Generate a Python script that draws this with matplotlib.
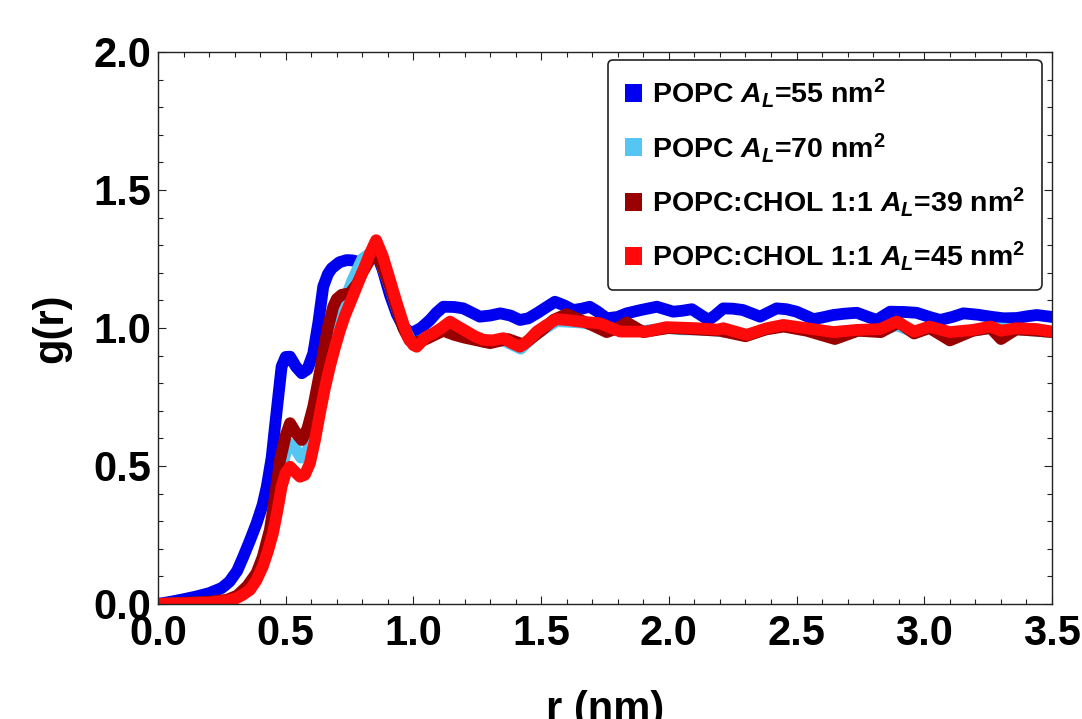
import matplotlib
matplotlib.use("Agg")
import matplotlib.pyplot as plt
from matplotlib.patches import Patch
from matplotlib.ticker import MultipleLocator

# ── fonts: bold helvetica-like everywhere, bold italic for A_L ───────────────
plt.rcParams["font.family"] = ["Liberation Sans", "DejaVu Sans"]
plt.rcParams["font.weight"] = "bold"
plt.rcParams["mathtext.fontset"] = "custom"
plt.rcParams["mathtext.rm"] = "Liberation Sans:bold"
plt.rcParams["mathtext.it"] = "Liberation Sans:bold:italic"
plt.rcParams["mathtext.bf"] = "Liberation Sans:bold"

# ── g(r) curves, read per system ──────────────────────────────────────────────
r_popc55 = [0.0, 0.05, 0.10, 0.15, 0.20, 0.25, 0.28, 0.31, 0.334, 0.36, 0.386,
            0.41, 0.426, 0.445, 0.458, 0.472, 0.484, 0.50, 0.517, 0.54, 0.563,
            0.585, 0.608, 0.628, 0.647, 0.665, 0.68, 0.71, 0.739, 0.76, 0.784,
            0.81, 0.83, 0.85, 0.88, 0.908, 0.935, 0.96, 0.98, 1.0, 1.03, 1.065,
            1.09, 1.117, 1.16, 1.195, 1.23, 1.26, 1.30, 1.34, 1.38, 1.417, 1.45,
            1.483, 1.52, 1.554, 1.59, 1.626, 1.66, 1.69, 1.72, 1.757, 1.80,
            1.835, 1.89, 1.953, 2.017, 2.05, 2.09, 2.12, 2.155, 2.18, 2.213,
            2.25, 2.29, 2.357, 2.422, 2.46, 2.5, 2.566, 2.60, 2.644, 2.69, 2.736,
            2.78, 2.814, 2.866, 2.92, 2.97, 3.02, 3.062, 3.11, 3.153, 3.21,
            3.258, 3.31, 3.362, 3.40, 3.44, 3.5]
g_popc55 = [0.0, 0.008, 0.017, 0.027, 0.039, 0.058, 0.081, 0.12, 0.171, 0.23,
            0.292, 0.36, 0.425, 0.53, 0.642, 0.76, 0.86, 0.895, 0.896, 0.86,
            0.836, 0.85, 0.908, 1.02, 1.15, 1.195, 1.216, 1.238, 1.246, 1.245,
            1.24, 1.245, 1.265, 1.285, 1.21, 1.12, 1.05, 1.005, 0.988, 0.985,
            1.0, 1.029, 1.055, 1.077, 1.076, 1.071, 1.055, 1.041, 1.045, 1.053,
            1.045, 1.029, 1.035, 1.053, 1.075, 1.095, 1.082, 1.065, 1.07, 1.077,
            1.06, 1.035, 1.04, 1.053, 1.065, 1.077, 1.059, 1.062, 1.068, 1.05,
            1.029, 1.045, 1.071, 1.07, 1.065, 1.041, 1.071, 1.068, 1.059, 1.032,
            1.038, 1.047, 1.052, 1.055, 1.04, 1.029, 1.059, 1.058, 1.055, 1.04,
            1.029, 1.04, 1.053, 1.048, 1.041, 1.035, 1.036, 1.042, 1.047, 1.04]

r_popc70 = [0.0, 0.10, 0.20, 0.27, 0.31, 0.36, 0.41, 0.45, 0.48, 0.50, 0.517,
            0.54, 0.56, 0.58, 0.60, 0.62, 0.64, 0.68, 0.72, 0.76, 0.80, 0.83,
            0.855, 0.88, 0.908, 0.935, 0.96, 0.985, 1.0, 1.03, 1.078, 1.143,
            1.209, 1.274, 1.352, 1.42, 1.483, 1.561, 1.652, 1.73, 1.81, 1.913,
            1.99, 2.05, 2.11, 2.19, 2.305, 2.383, 2.448, 2.54, 2.644, 2.736,
            2.827, 2.892, 2.96, 3.02, 3.1, 3.19, 3.26, 3.36, 3.44, 3.5]
g_popc70 = [0.0, 0.003, 0.006, 0.014, 0.025, 0.06, 0.15, 0.28, 0.47, 0.55, 0.58,
            0.56, 0.53, 0.54, 0.60, 0.68, 0.78, 0.94, 1.07, 1.17, 1.25, 1.27,
            1.29, 1.22, 1.15, 1.07, 1.01, 0.96, 0.945, 0.955, 0.98, 1.015, 0.98,
            0.95, 0.955, 0.925, 0.98, 1.025, 1.02, 1.01, 0.99, 0.99, 1.0, 0.995,
            0.995, 0.99, 0.975, 0.995, 1.008, 0.995, 0.985, 0.99, 0.99, 1.01,
            0.985, 1.0, 0.982, 0.99, 1.0, 0.995, 0.99, 0.985]

r_chol39 = [0.0, 0.10, 0.20, 0.27, 0.31, 0.35, 0.386, 0.41, 0.438, 0.46, 0.478,
            0.50, 0.517, 0.54, 0.563, 0.585, 0.608, 0.628, 0.647, 0.665, 0.686,
            0.70, 0.719, 0.752, 0.78, 0.80, 0.825, 0.85, 0.88, 0.908, 0.935,
            0.96, 0.985, 1.0, 1.05, 1.117, 1.16, 1.2, 1.25, 1.3, 1.37, 1.43,
            1.5, 1.55, 1.6, 1.65, 1.7, 1.757, 1.8, 1.835, 1.9, 2.0, 2.1, 2.2,
            2.3, 2.38, 2.45, 2.54, 2.65, 2.74, 2.83, 2.9, 2.96, 3.02, 3.1, 3.19,
            3.26, 3.3, 3.36, 3.44, 3.5]
g_chol39 = [0.0, 0.004, 0.008, 0.015, 0.03, 0.065, 0.112, 0.17, 0.268, 0.40,
            0.522, 0.61, 0.655, 0.62, 0.594, 0.635, 0.715, 0.81, 0.908, 1.0,
            1.077, 1.105, 1.12, 1.126, 1.16, 1.2, 1.24, 1.28, 1.22, 1.15, 1.07,
            1.0, 0.955, 0.945, 0.96, 0.99, 0.975, 0.965, 0.955, 0.945, 0.96,
            0.94, 0.99, 1.03, 1.05, 1.03, 1.01, 0.985, 1.0, 1.02, 0.985, 1.0,
            0.995, 0.99, 0.97, 0.995, 1.005, 0.99, 0.96, 0.99, 0.985, 1.02,
            0.98, 1.0, 0.955, 0.99, 1.0, 0.96, 0.995, 0.99, 0.985]

r_chol45 = [0.0, 0.10, 0.20, 0.27, 0.305, 0.33, 0.36, 0.385, 0.41, 0.43, 0.45,
            0.468, 0.484, 0.50, 0.517, 0.535, 0.556, 0.575, 0.595, 0.615, 0.634,
            0.653, 0.673, 0.693, 0.713, 0.732, 0.752, 0.778, 0.804, 0.83, 0.854,
            0.88, 0.908, 0.935, 0.96, 0.98, 1.0, 1.013, 1.05, 1.078, 1.11,
            1.143, 1.175, 1.209, 1.24, 1.274, 1.31, 1.352, 1.385, 1.417, 1.45,
            1.483, 1.52, 1.561, 1.61, 1.652, 1.73, 1.81, 1.913, 1.99, 2.11,
            2.19, 2.213, 2.305, 2.383, 2.448, 2.54, 2.644, 2.736, 2.827, 2.892,
            2.96, 3.02, 3.1, 3.19, 3.26, 3.3, 3.36, 3.44, 3.5]
g_chol45 = [0.0, 0.002, 0.005, 0.012, 0.02, 0.032, 0.051, 0.085, 0.135, 0.19,
            0.256, 0.34, 0.425, 0.475, 0.497, 0.48, 0.461, 0.468, 0.51, 0.595,
            0.691, 0.78, 0.86, 0.93, 0.993, 1.045, 1.09, 1.15, 1.21, 1.27, 1.318,
            1.26, 1.174, 1.09, 1.017, 0.965, 0.938, 0.932, 0.968, 0.981, 1.0,
            1.023, 1.005, 0.987, 0.97, 0.957, 0.955, 0.963, 0.945, 0.932, 0.955,
            0.987, 1.01, 1.032, 1.028, 1.023, 1.017, 0.987, 0.987, 1.003, 0.999,
            0.994, 0.999, 0.975, 0.999, 1.011, 0.999, 0.985, 0.993, 0.996, 1.023,
            0.987, 1.005, 0.985, 0.993, 1.005, 0.99, 0.999, 0.996, 0.987]

series = [
    (r_popc55, g_popc55, "#0000f0", r"POPC $A_L$=55 nm$^2$"),
    (r_popc70, g_popc70, "#55c6f2", r"POPC $A_L$=70 nm$^2$"),
    (r_chol39, g_chol39, "#990000", r"POPC:CHOL 1:1 $A_L$=39 nm$^2$"),
    (r_chol45, g_chol45, "#ff0a0a", r"POPC:CHOL 1:1 $A_L$=45 nm$^2$"),
]

# ── figure ────────────────────────────────────────────────────────────────────
fig = plt.figure(figsize=(10.82, 7.19), dpi=100, facecolor="white")
ax = fig.add_axes([0.146, 0.16, 0.8263, 0.7677])

for r, g, col, lab in series:
    ax.plot(r, g, color=col, linewidth=8.5, solid_joinstyle="round",
            solid_capstyle="round")

ax.set_xlim(0, 3.5)
ax.set_ylim(0, 2.0)
ax.xaxis.set_major_locator(MultipleLocator(0.5))
ax.xaxis.set_minor_locator(MultipleLocator(0.1))
ax.yaxis.set_major_locator(MultipleLocator(0.5))
ax.yaxis.set_minor_locator(MultipleLocator(0.1))
ax.xaxis.set_major_formatter(lambda v, p: f"{v:.1f}")
ax.yaxis.set_major_formatter(lambda v, p: f"{v:.1f}")

ax.tick_params(which="both", direction="in", top=True, right=True,
               width=0.8, color="#222222")
ax.tick_params(which="major", length=6, labelsize=30)
ax.tick_params(which="minor", length=3.5)
ax.tick_params(axis="x", which="major", pad=7)
ax.tick_params(axis="y", which="major", pad=5)
for s in ax.spines.values():
    s.set_linewidth(1.0)
    s.set_color("#222222")

ax.set_xlabel("r (nm)", fontsize=30, fontweight="bold", labelpad=26)
ax.set_ylabel("g(r)", fontsize=30, fontweight="bold", labelpad=16)

handles = [Patch(facecolor=col, edgecolor="none") for _, _, col, _ in series]
labels = [lab for _, _, _, lab in series]
leg = ax.legend(handles, labels, loc="upper right",
                bbox_to_anchor=(0.989, 0.986), borderaxespad=0,
                prop={"size": 20.5, "weight": "bold"},
                handlelength=0.6, handleheight=0.6, handletextpad=0.35,
                labelspacing=0.72, borderpad=0.6,
                fancybox=True, framealpha=1.0, edgecolor="#222222")
leg.get_frame().set_linewidth(1.2)

plt.savefig("out.png", dpi=100)
plt.close()
